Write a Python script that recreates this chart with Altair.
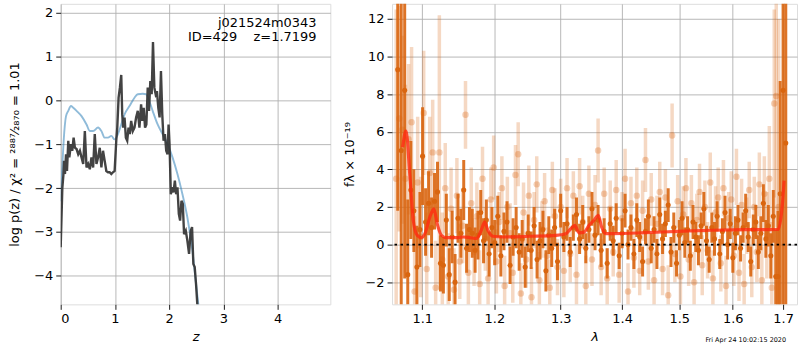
import altair as alt
import pandas as pd

FONT = "DejaVu Sans"

# ---------------- left panel: redshift PDF ----------------
pz_z = [0.000,0.030,0.050,0.061,0.079,0.098,0.116,0.140,0.159,0.189,0.213,0.238,0.262,0.293,0.323,0.354,0.384,0.415,0.445,0.476,
        0.506,0.537,0.567,0.598,0.628,0.659,0.689,0.720,0.750,0.780,0.811,0.841,0.872,0.902,0.933,0.963,0.994,1.024,1.043,1.067,
        1.091,1.116,1.134,1.152,1.177,1.201,1.226,1.250,1.274,1.299,1.329,1.360,1.390,1.421,1.451,1.482,1.506,1.530,1.555,1.579,
        1.604,1.628,1.652,1.677,1.701,1.726,1.750,1.774,1.799,1.823,1.848,1.872,1.896,1.921,1.945,1.970,1.988,2.006,2.030,2.055,
        2.079,2.104,2.128,2.152,2.177,2.201,2.226,2.250,2.274,2.305,2.335,2.366,2.396,2.421,2.445,2.470,2.494,2.518,2.560]
pz_logp = [-3.35,-2.0,-1.7,-1.38,-1.68,-1.23,-1.61,-0.92,-1.30,-1.00,-1.15,-0.85,-1.08,-1.11,-1.23,-1.15,-1.30,-1.45,-0.70,-1.53,
           -1.45,-1.57,-1.30,-1.53,-0.77,-1.45,-1.30,-1.08,-1.53,-1.15,-1.38,-1.61,-1.64,-1.64,-1.68,-1.64,-1.61,-0.92,-0.62,0.06,
           0.29,0.58,-0.32,-0.62,-0.39,-0.85,-0.92,-0.62,-0.77,-0.47,-0.70,-0.62,-0.39,-0.24,-0.62,-0.09,-0.47,-0.17,-0.62,-0.55,
           0.29,-0.24,0.44,0.14,1.33,0.29,0.14,0.21,-0.17,-0.39,0.67,-0.32,-0.92,-0.77,-1.15,-1.23,-0.55,-1.00,-2.14,-1.98,
           -2.10,-1.83,-2.14,-1.98,-2.59,-2.74,-2.29,-2.36,-3.05,-2.97,-3.20,-3.50,-2.97,-2.89,-3.73,-3.80,-4.18,-4.65,-5.10]

tm_z = [0.000,0.018,0.055,0.098,0.140,0.189,0.232,0.293,0.384,0.476,0.537,0.598,0.689,0.750,0.811,0.872,0.933,0.994,1.055,1.116,
        1.177,1.268,1.360,1.421,1.512,1.573,1.634,1.695,1.787,1.878,1.970,2.061,2.152,2.244,2.335,2.427,2.488,2.537,2.570]
tm_logp = [-2.3,-1.83,-0.92,-0.36,-0.24,-0.13,-0.17,-0.24,-0.36,-0.55,-0.70,-0.70,-0.62,-0.70,-0.85,-0.85,-0.81,-0.89,-0.77,-0.55,
           -0.32,-0.13,0.06,0.14,0.15,0.14,-0.02,-0.24,-0.55,-0.77,-1.00,-1.30,-1.68,-2.14,-2.67,-3.42,-4.11,-4.65,-5.0]

label_lines = ["j021524m0343", "ID=429\u00a0\u00a0\u00a0\u00a0z=1.7199"]
stamp = "Fri Apr 24 10:02:15 2020"

# ---------------- right panel: spectrum ----------------
dark_wave = [1.0680,1.0725,1.0770,1.0810,1.0850,1.0890,1.0930,1.0970,1.1005,
             1.1045,1.1085,1.1125,1.1165,1.1205,1.1245,1.1285,1.1325,1.1365,1.1405,
             1.1445,1.1485,1.1525,1.1565,1.1605,1.1645,1.1685,1.1725,1.1765,1.1805,
             1.1845,1.1885,1.1925,1.1965,1.2005,1.2050,1.2095,1.2140,1.2185,1.2230,
             1.2275,1.2320,1.2365,1.2410,1.2455,1.2500,1.2545,1.2590,1.2635,1.2680,
             1.2725,1.2770,1.2815,1.2860,1.2905,1.2950,
             1.300,1.305,1.310,1.315,1.320,1.325,1.330,1.335,1.340,1.345,
             1.350,1.355,1.360,1.365,1.370,1.375,1.380,1.385,1.390,1.395,
             1.400,1.405,1.410,1.415,1.420,1.425,1.430,1.435,1.440,1.445,
             1.450,1.455,1.460,1.465,1.470,1.475,1.480,1.485,1.490,1.495,
             1.500,1.505,1.510,1.515,1.520,1.525,1.530,1.535,1.540,1.545,
             1.550,1.555,1.560,1.565,1.570,1.575,1.580,1.585,1.590,1.595,
             1.600,1.605,1.610,1.615,1.620,1.625,1.630,1.635,1.640,1.645,
             1.650,1.655,1.660,1.665,1.670,1.675,1.680,
             1.6850,1.6895,1.6940,1.7000,1.7055]
dark_flux = [9.3,5.0,8.2,-1.6,2.9,1.8,-1.2,0.8,4.7,
             1.2,2.2,0.9,2.3,2.8,-1.0,-1.1,1.3,-1.6,0.4,
             -2.0,1.4,0.6,2.9,-0.2,0.8,0.6,-0.3,0.5,1.7,
             0.2,1.3,-0.5,0.9,0.1,1.5,-0.6,0.7,1.2,-1.1,
             0.4,0.9,-0.4,0.3,-1.2,0.6,-0.3,1.0,-0.8,0.2,
             0.8,-1.4,0.5,-0.2,0.9,-0.9,
             1.8,0.4,1.1,-0.4,0.9,1.6,0.3,1.2,-0.2,0.8,
             1.9,0.5,1.3,-0.3,0.7,-1.0,1.1,0.2,1.4,-0.6,
             0.6,1.8,0.0,0.9,-0.5,1.3,0.4,-0.9,0.7,1.5,
             -0.2,0.8,-0.5,1.6,0.3,1.1,2.1,-0.4,0.9,-1.0,
             0.5,1.4,0.1,0.8,-0.6,1.2,0.4,-0.3,1.0,1.9,
             0.2,-0.8,0.9,0.3,1.5,-0.5,0.7,1.7,0.0,1.1,
             -0.7,0.6,1.3,-0.2,0.9,1.8,0.4,-0.9,0.8,1.2,
             -0.4,0.6,2.2,0.3,1.0,-0.6,1.5,
             -1.7,-1.7,2.7,8.2,5.4]
dark_err = [7.5,10.0,10.0,4.0,2.6,2.2,2.2,2.0,2.6,
            1.8,1.7,1.6,1.5,1.6,1.5,1.5,1.4,1.4,1.4,
            1.5,1.3,1.3,1.6,1.3,1.2,1.3,1.2,1.3,1.2,
            1.2,1.1,1.2,1.1,1.2,1.1,1.1,1.0,1.1,1.0,
            1.0,1.1,1.0,1.0,1.1,1.0,1.0,1.0,1.0,1.0,
            1.0,1.1,1.0,1.0,1.0,1.0,
            0.9,0.8,0.9,0.8,0.7,0.9,0.8,0.9,0.8,0.7,
            0.9,0.8,0.8,0.9,0.7,0.8,0.9,0.8,0.8,0.7,
            0.8,0.9,0.8,0.7,0.8,0.9,0.8,0.8,0.7,0.9,
            0.8,0.7,0.8,0.9,0.8,0.7,0.9,0.8,0.8,0.7,
            0.8,0.9,0.8,0.7,0.8,0.9,0.8,0.8,0.7,0.9,
            0.8,0.7,0.8,0.9,0.8,0.8,0.7,0.9,0.8,0.8,
            0.8,0.9,0.8,0.7,0.8,0.9,0.8,0.8,0.8,0.9,
            0.9,0.9,1.0,1.0,1.1,1.2,1.4,
            2.5,3.5,6.0,12.0,12.0]

light_wave = [1.0660,1.0700,1.0740,1.0780,1.0820,1.0860,1.0900,1.0940,1.0980,1.1020,
              1.1060,1.1100,1.1140,1.1180,1.1230,1.1270,1.1310,1.1350,1.1390,1.1430,
              1.1470,1.1510,1.1550,1.1590,1.1630,1.1670,1.1710,1.1750,1.1790,1.1830,
              1.1870,1.1910,1.1950,1.1990,1.2030,1.2070,1.2110,1.2150,1.2190,1.2230,
              1.2270,1.2310,1.2350,1.2390,1.2430,1.2470,1.2510,1.2550,1.2590,1.2630,
              1.2670,1.2710,1.2750,1.2790,1.2830,1.2870,1.2910,1.2950,
              1.300,1.305,1.310,1.315,1.320,1.325,1.330,1.335,1.340,1.345,
              1.350,1.355,1.360,1.365,1.370,1.375,1.380,1.385,1.390,1.395,
              1.400,1.405,1.410,1.415,1.420,1.425,1.430,1.435,1.440,1.445,
              1.450,1.455,1.460,1.465,1.470,1.475,1.480,
              1.487,
              1.492,1.497,1.502,1.507,1.512,1.517,1.522,1.527,1.532,1.537,
              1.542,1.547,1.552,1.557,1.562,1.567,1.572,1.577,1.582,1.587,
              1.592,1.597,1.602,1.607,1.612,1.617,1.622,1.627,1.632,1.637,
              1.642,1.647,1.652,1.657,1.662,1.667,
              1.672,1.677,1.682,1.686,1.691]
light_flux = [3.5,6.7,6.1,3.5,5.6,6.5,-2.5,3.3,0.4,7.0,
              -1.3,3.8,4.9,-2.3,4.9,-0.8,3.0,-1.7,1.9,-2.4,
              2.6,-0.9,1.0,6.9,-1.5,2.2,-0.4,1.5,-2.1,3.5,
              0.3,-1.8,2.4,4.1,-0.9,1.2,3.0,-2.2,2.0,0.6,
              -1.5,3.7,4.8,-2.6,1.7,-0.8,2.6,-2.8,1.3,3.2,
              -1.9,0.8,2.3,-0.6,-2.3,2.9,1.5,-1.2,
              2.0,-1.4,3.0,-0.5,2.6,-1.6,3.1,1.2,-2.2,2.7,
              -0.8,2.1,5.0,-1.2,2.7,-1.8,1.9,-0.4,2.9,-1.6,
              1.4,3.5,-2.5,2.2,-0.7,2.6,-1.4,1.8,4.5,-0.9,
              2.4,-1.9,1.1,2.8,-1.3,2.5,-2.7,
              5.8,
              -0.5,2.3,-1.7,1.6,3.0,-0.8,2.2,-2.0,1.3,2.8,
              -1.1,2.0,-0.3,3.3,-1.8,1.7,2.5,-1.0,3.0,-2.2,
              1.4,2.4,-0.6,3.6,-1.5,2.1,-2.1,1.0,2.9,-1.2,
              2.0,-0.4,3.2,-1.9,2.7,0.5,
              3.5,-2.3,7.5,7.9,2.0]
light_err = [9.0,6.0,5.0,5.0,4.0,4.0,4.0,3.5,3.2,3.3,
             3.0,3.0,2.8,2.5,7.3,2.5,2.4,2.3,2.2,2.2,
             2.0,2.0,2.0,1.8,2.0,1.9,1.8,1.8,1.8,1.7,
             1.7,1.8,1.7,1.7,1.7,1.6,1.7,1.6,1.6,1.6,
             1.6,1.6,1.7,1.6,1.6,1.5,1.6,1.6,1.5,1.5,
             1.5,1.5,1.5,1.5,1.5,1.5,1.5,1.5,
             1.5,1.4,1.6,1.5,1.3,1.6,1.5,1.4,1.6,1.5,
             1.4,1.6,1.7,1.5,1.4,1.6,1.5,1.3,1.6,1.5,
             1.4,1.6,1.5,1.4,1.6,1.5,1.3,1.6,1.7,1.5,
             1.4,1.6,1.5,1.6,1.4,1.5,1.6,
             1.7,
             1.5,1.4,1.6,1.5,1.6,1.4,1.5,1.6,1.4,1.5,
             1.6,1.4,1.5,1.6,1.5,1.4,1.6,1.5,1.5,1.6,
             1.4,1.5,1.6,1.5,1.5,1.4,1.6,1.5,1.5,1.6,
             1.6,1.6,1.7,1.8,2.0,2.3,
             2.8,3.5,5.0,7.0,10.0]

model_wave = [1.0744,1.0787,1.0839,1.0882,1.0934,1.0992,1.1036,1.1102,1.1156,1.1200,
              1.1259,1.1326,1.1463,1.1555,1.1648,1.1742,1.1812,1.1860,1.1907,1.1979,
              1.2124,1.2518,1.2925,1.3081,1.3160,1.3223,1.3292,1.3372,1.3452,1.3533,
              1.3604,1.3658,1.3724,1.3834,1.4399,1.4987,1.5598,1.6235,1.6898,1.6980,1.7021]
model_flux = [5.17,6.05,3.58,1.29,0.49,0.37,0.58,1.46,1.90,1.11,
              0.49,0.37,0.37,0.40,0.37,0.32,0.76,1.20,0.76,0.44,
              0.40,0.44,0.49,0.58,0.84,1.02,0.62,0.66,1.02,1.29,
              1.55,0.93,0.58,0.58,0.63,0.70,0.76,0.79,0.80,1.99,3.40]

# ---------------- tables ----------------
pz_df = pd.DataFrame({"z": pz_z, "logp": pz_logp})
tm_df = pd.DataFrame({"z": tm_z, "logp": tm_logp})
dark_df = pd.DataFrame({"w": dark_wave, "f": dark_flux, "e": dark_err})
dark_df["lo"] = dark_df["f"] - dark_df["e"]
dark_df["hi"] = dark_df["f"] + dark_df["e"]
light_df = pd.DataFrame({"w": light_wave, "f": light_flux, "e": light_err})
light_df["lo"] = light_df["f"] - light_df["e"]
light_df["hi"] = light_df["f"] + light_df["e"]
model_df = pd.DataFrame({"w": model_wave, "f": model_flux})
zero_df = pd.DataFrame({"f": [0.0]})

ORANGE = "#d9650f"

axis_style = dict(grid=True, gridColor="#b0b0b0", gridWidth=0.9, tickColor="black", tickSize=5,
                  tickWidth=0.9, labelFont=FONT, labelFontSize=13, labelColor="black",
                  titleFont=FONT, titleFontSize=13, titleColor="black", titleFontWeight="normal",
                  domain=False, labelPadding=3)

# ---------------- left chart ----------------
zscale = alt.Scale(domain=[0, 4.97], nice=False, zero=False)
pscale = alt.Scale(domain=[-4.65, 2.2], nice=False, zero=False)
ytitle_left = "log p(z) / χ² = ²⁸⁸⁷⁄₂₈₇₀ = 1.01"

def lx():
    return alt.X("z:Q", scale=zscale,
                 axis=alt.Axis(values=[0, 1, 2, 3, 4], format="d", title="z",
                               titleFontStyle="italic", titlePadding=5, **axis_style))

def lyy():
    return alt.Y("logp:Q", scale=pscale,
                 axis=alt.Axis(values=[-4, -3, -2, -1, 0, 1, 2], format="d", title=ytitle_left,
                               titlePadding=12, **axis_style))

tm_line = alt.Chart(tm_df).mark_line(clip=True, color="#1f77b4", opacity=0.5, strokeWidth=1.9,
                                     interpolate="monotone").encode(x=lx(), y=lyy())
pz_line = alt.Chart(pz_df).mark_line(clip=True, color="#333333", opacity=0.92, strokeWidth=2.4).encode(x=lx(), y=lyy())
lab_df1 = pd.DataFrame({"t": [label_lines[0]]})
lab_df2 = pd.DataFrame({"t": [label_lines[1]]})
lab1 = alt.Chart(lab_df1).mark_text(align="right", baseline="middle", font=FONT, fontSize=13, color="black").encode(
    x=alt.value(257), y=alt.value(19), text="t:N")
lab2 = alt.Chart(lab_df2).mark_text(align="right", baseline="middle", font=FONT, fontSize=13, color="black").encode(
    x=alt.value(257), y=alt.value(33), text="t:N")

left = alt.layer(tm_line, pz_line, lab1, lab2).properties(width=271, height=302)

# ---------------- right chart ----------------
wscale = alt.Scale(type="log", domain=[1.0607, 1.7288], nice=False, zero=False)
fscale = alt.Scale(domain=[-3.18, 12.8], nice=False, zero=False)
ytitle_right = "fλ × 10⁻¹⁹"

def rx():
    return alt.X("w:Q", scale=wscale,
                 axis=alt.Axis(values=[1.1, 1.2, 1.3, 1.4, 1.5, 1.6, 1.7], format=".1f", title="λ",
                               titleFontStyle="italic", titlePadding=5, **axis_style))

def ry(field):
    return alt.Y(field, scale=fscale,
                 axis=alt.Axis(values=[-2, 0, 2, 4, 6, 8, 10, 12], format="d", title=ytitle_right,
                               titlePadding=9, **axis_style))

light_bars = alt.Chart(light_df).mark_rule(clip=True, color=ORANGE, opacity=0.25, strokeWidth=3.5).encode(
    x=rx(), y=ry("lo:Q"), y2="hi:Q")
light_pts = alt.Chart(light_df).mark_circle(clip=True, color=ORANGE, opacity=0.3, size=42).encode(
    x=rx(), y=ry("f:Q"))
dark_bars = alt.Chart(dark_df).mark_rule(clip=True, color=ORANGE, opacity=0.9, strokeWidth=3).encode(
    x=rx(), y=ry("lo:Q"), y2="hi:Q")
dark_pts = alt.Chart(dark_df).mark_circle(clip=True, color=ORANGE, opacity=1, size=26).encode(
    x=rx(), y=ry("f:Q"))
model_line = alt.Chart(model_df).mark_line(clip=True, color="#ff2a10", opacity=0.8, strokeWidth=3.2,
                                           interpolate="monotone").encode(x=rx(), y=ry("f:Q"))
zero_line = alt.Chart(zero_df).mark_rule(color="black", strokeDash=[2.5, 3.5], strokeWidth=1.8).encode(y=ry("f:Q"))
stamp_df = pd.DataFrame({"t": [stamp]})
stamp_txt = alt.Chart(stamp_df).mark_text(align="right", baseline="middle", font=FONT, fontSize=6.5,
                                          color="black").encode(x=alt.value(396), y=alt.value(338), text="t:N")

right = alt.layer(light_bars, light_pts, dark_bars, dark_pts, model_line, zero_line, stamp_txt).properties(
    width=407, height=302)

chart = alt.hconcat(left, right, spacing=11).properties(
    padding={"left": 8, "top": 2, "right": 1, "bottom": 0}
).configure_view(stroke="black", strokeWidth=1).configure(font=FONT, background="white")

chart.save("out.html", embed_options={"renderer": "svg", "actions": False})
